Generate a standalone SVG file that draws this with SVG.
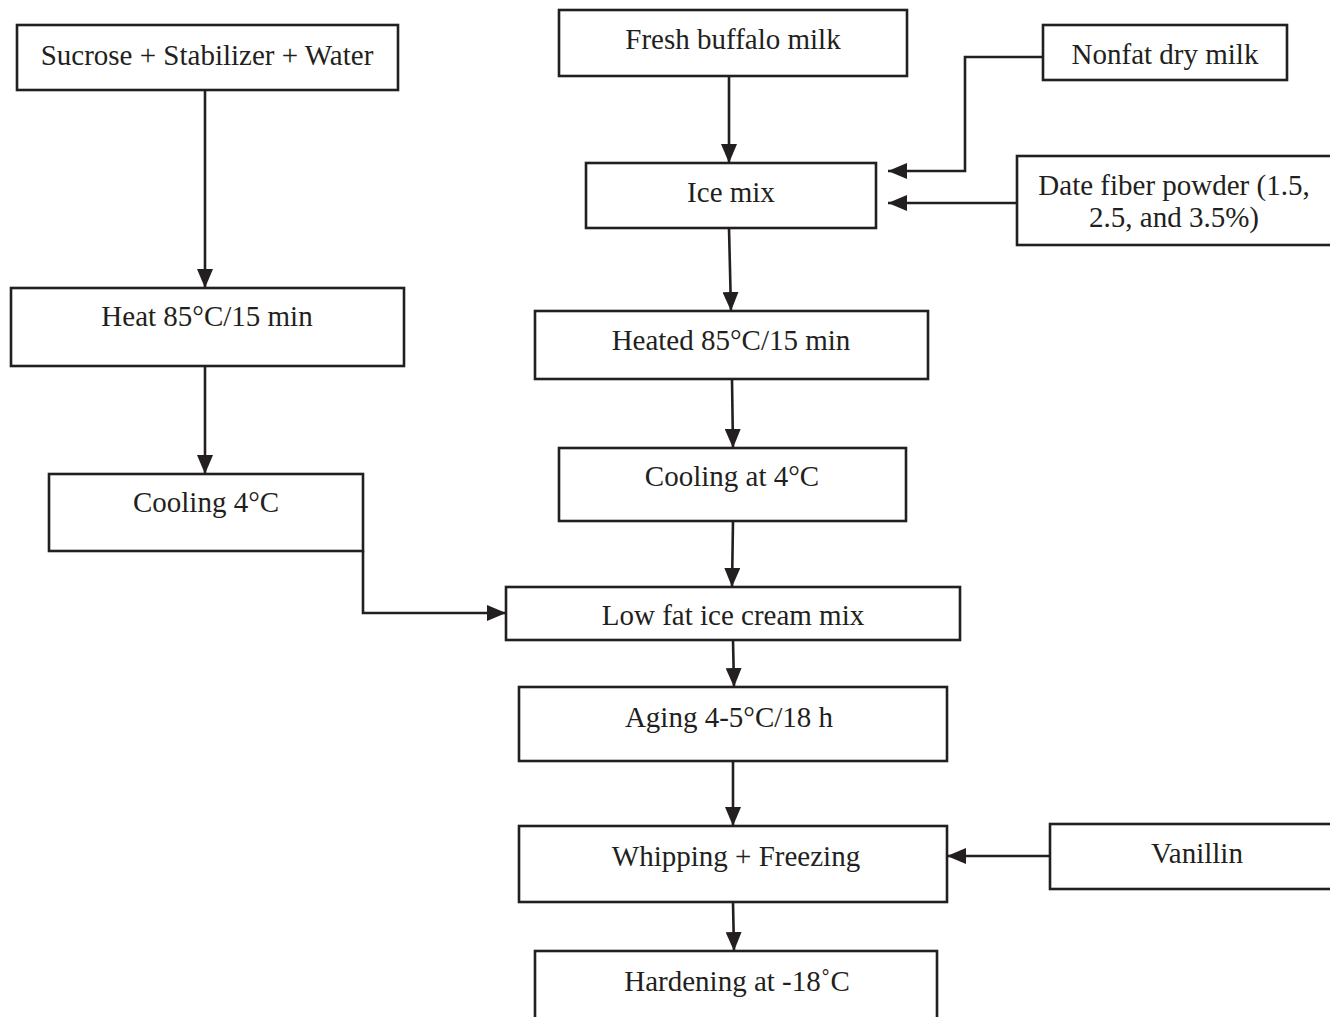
<svg xmlns="http://www.w3.org/2000/svg" width="1330" height="1017" viewBox="0 0 1330 1017">
<style>
.box{fill:#fff;stroke:#231f20;stroke-width:2.6}
.t{font-family:"Liberation Serif","Times New Roman",serif;font-size:29px;fill:#231f20;text-anchor:middle}
.c{fill:none;stroke:#231f20;stroke-width:2.6}
</style>
<defs>
<marker id="ah" markerUnits="userSpaceOnUse" markerWidth="20" markerHeight="16" refX="19" refY="8" orient="auto">
<path d="M0,0 L19,8 L0,16 Z" fill="#231f20"/>
</marker>
</defs>
<rect width="1330" height="1017" fill="#fff"/>
<g id="connectors">
<path class="c" d="M205,90 V288" marker-end="url(#ah)"/>
<path class="c" d="M205,366 V474" marker-end="url(#ah)"/>
<path class="c" d="M363,551 V613 H506" marker-end="url(#ah)"/>
<path class="c" d="M729,76 V163" marker-end="url(#ah)"/>
<path class="c" d="M729,228 L731,311" marker-end="url(#ah)"/>
<path class="c" d="M732,379 L733,448" marker-end="url(#ah)"/>
<path class="c" d="M733,521 L732,587" marker-end="url(#ah)"/>
<path class="c" d="M733,640 L734,687" marker-end="url(#ah)"/>
<path class="c" d="M733,761 V826" marker-end="url(#ah)"/>
<path class="c" d="M733,902 L734,951" marker-end="url(#ah)"/>
<path class="c" d="M1043,57 H965 V171 H888" marker-end="url(#ah)"/>
<path class="c" d="M1017,203 H888" marker-end="url(#ah)"/>
<path class="c" d="M1050,856 H947" marker-end="url(#ah)"/>
</g>
<g id="sucrose"><rect class="box" x="17" y="25" width="381" height="65"/><text class="t" x="207" y="65">Sucrose + Stabilizer + Water</text></g>
<g id="fresh"><rect class="box" x="559" y="10" width="348" height="66"/><text class="t" x="733" y="49">Fresh buffalo milk</text></g>
<g id="nonfat"><rect class="box" x="1043" y="25" width="244" height="55"/><text class="t" x="1165" y="64">Nonfat dry milk</text></g>
<g id="icemix"><rect class="box" x="586" y="163" width="290" height="65"/><text class="t" x="731" y="202">Ice mix</text></g>
<g id="datefiber"><rect class="box" x="1017" y="156" width="320" height="89"/><text class="t" x="1174" y="195">Date fiber powder (1.5,</text><text class="t" x="1174" y="227">2.5, and 3.5%)</text></g>
<g id="heat"><rect class="box" x="11" y="288" width="393" height="78"/><text class="t" x="207" y="326">Heat 85°C/15 min</text></g>
<g id="heated"><rect class="box" x="535" y="311" width="393" height="68"/><text class="t" x="731" y="350">Heated 85°C/15 min</text></g>
<g id="coolingat"><rect class="box" x="559" y="448" width="347" height="73"/><text class="t" x="732" y="486">Cooling at 4°C</text></g>
<g id="cooling"><rect class="box" x="49" y="474" width="314" height="77"/><text class="t" x="206" y="512">Cooling 4°C</text></g>
<g id="lowfat"><rect class="box" x="506" y="587" width="454" height="53"/><text class="t" x="733" y="625">Low fat ice cream mix</text></g>
<g id="aging"><rect class="box" x="519" y="687" width="428" height="74"/><text class="t" x="729" y="727">Aging 4-5°C/18 h</text></g>
<g id="whipping"><rect class="box" x="519" y="826" width="428" height="76"/><text class="t" x="736" y="866">Whipping + Freezing</text></g>
<g id="vanillin"><rect class="box" x="1050" y="824" width="290" height="65"/><text class="t" x="1197" y="863">Vanillin</text></g>
<g id="hardening"><rect class="box" x="535" y="951" width="402" height="80"/><text class="t" x="737" y="991">Hardening at -18˚C</text></g>
</svg>
